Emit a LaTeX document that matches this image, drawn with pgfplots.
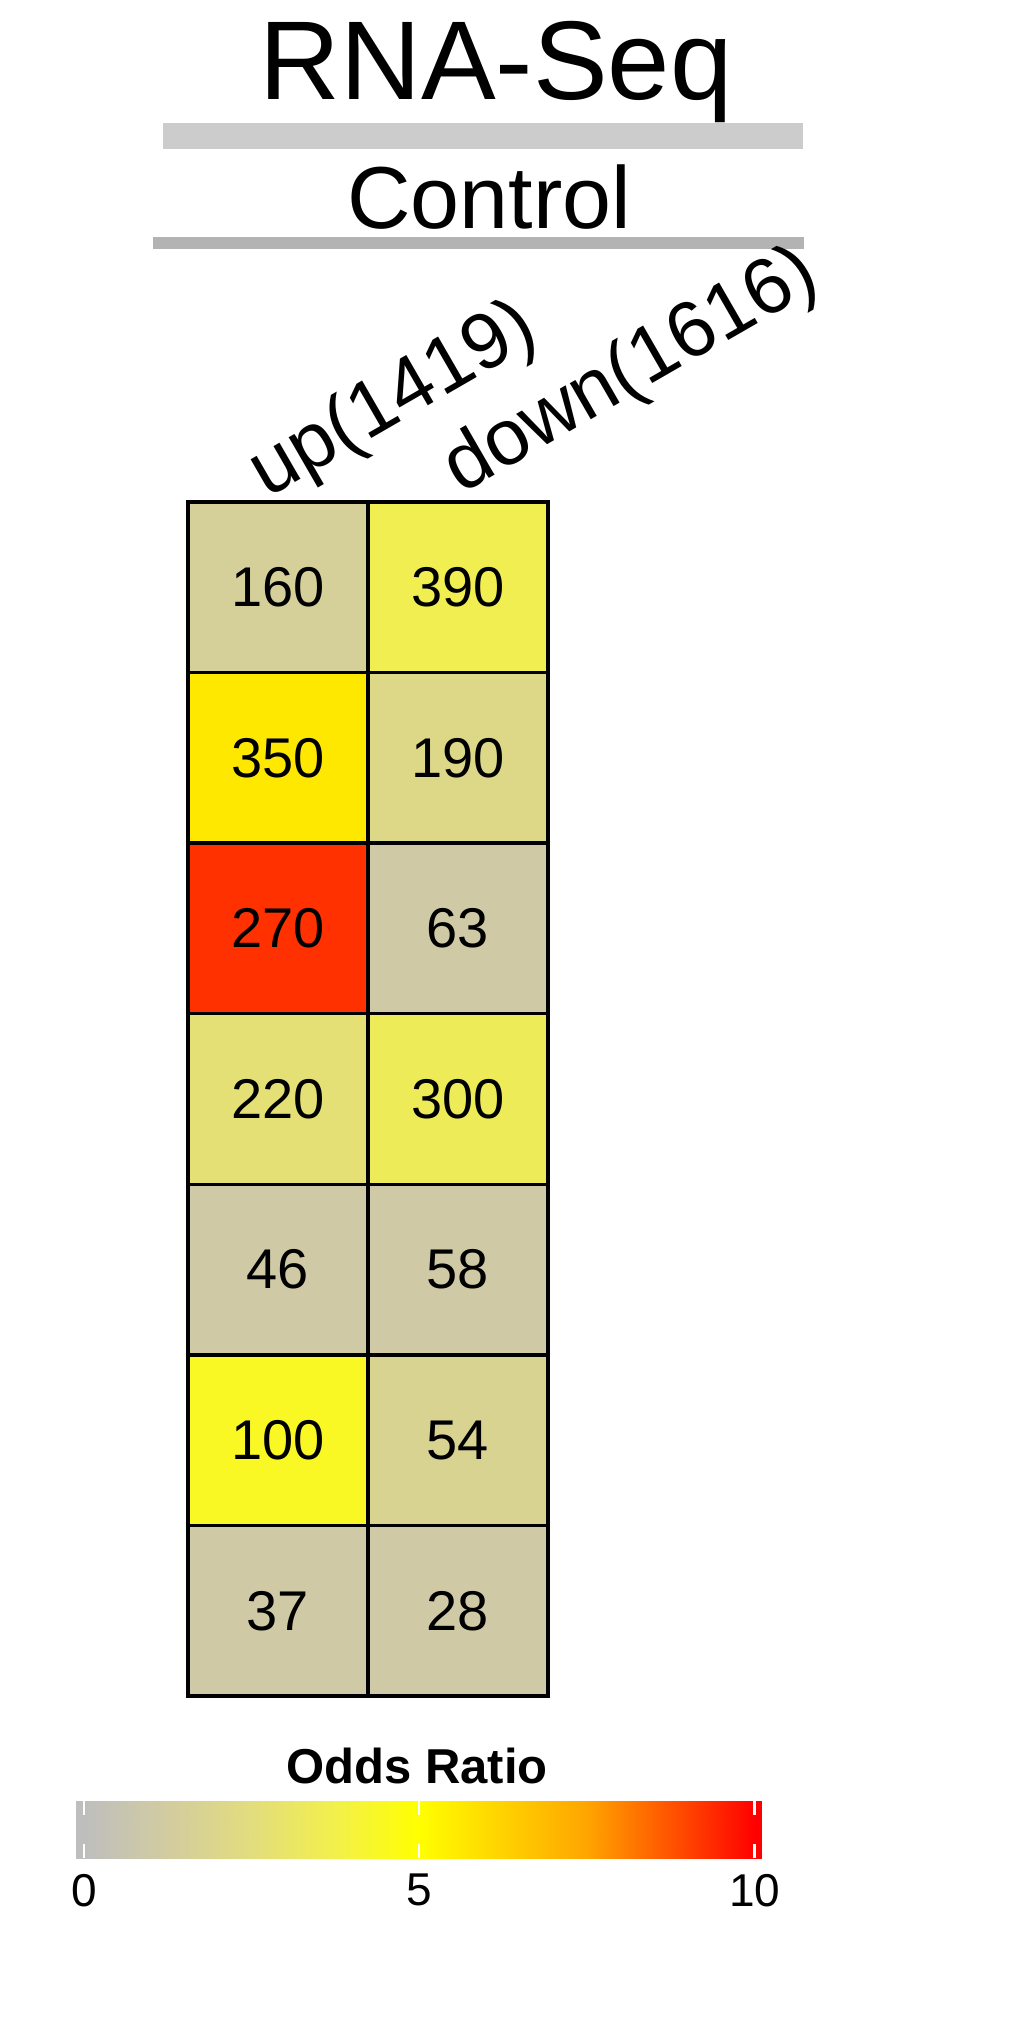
\documentclass[border=0pt]{standalone}
\usepackage{pgfplots}
\pgfplotsset{compat=1.18}
\usepackage{pgfplotstable}
\usepackage{fontspec}
\setmainfont{Liberation Sans}
\definecolor{bar1}{RGB}{204,204,204}
\definecolor{bar2}{RGB}{179,179,179}
\pgfplotsset{colormap={oddsr}{rgb255(0)=(190,190,190) rgb255(1.25)=(210,204,160) rgb255(2.5)=(226,221,125) rgb255(3.75)=(242,240,75) rgb255(5)=(255,255,0) rgb255(7.5)=(255,165,0) rgb255(10)=(255,0,0)}}
\pgfplotstableread{
x y or lab
0 0 1.5 160
1 0 3.6 390
0 1 5.65 350
1 1 2.1 190
0 2 9.25 270
1 2 1.05 63
0 3 2.7 220
1 3 3.4 300
0 4 1.05 46
1 4 1.05 58
0 5 4.4 100
1 5 1.8 54
0 6 1.05 37
1 6 1.05 28
}\cells
\pgfplotstableread{
x y
-0.115 0
0 0
1 0
2 0
3 0
4 0
5 0
6 0
7 0
8 0
9 0
10 0
10.11 0
-0.115 1
0 1
1 1
2 1
3 1
4 1
5 1
6 1
7 1
8 1
9 1
10 1
10.11 1
}\cbar
\begin{document}
\begin{tikzpicture}
\useasboundingbox (0pt,0pt) rectangle (510pt,-1015pt);
\fill[bar1] (81.5pt,-61.5pt) rectangle (401.5pt,-74.5pt);
\fill[bar2] (76.5pt,-118.5pt) rectangle (402pt,-124.5pt);
\node[anchor=base, font=\fontsize{56}{60}\selectfont, inner sep=0pt] at (248pt,-49.5pt) {RNA-Seq};
\node[anchor=base, font=\fontsize{44}{48}\selectfont, inner sep=0pt] at (244.5pt,-114pt) {Control};
\begin{axis}[at={(94pt,-848pt)}, anchor=south west, scale only axis,
  width=180pt, height=597pt,
  xmin=-0.5, xmax=1.5, ymin=-0.5, ymax=6.5, y dir=reverse,
  colormap name=oddsr, point meta min=0, point meta max=10,
  xtick=\empty, ytick=\empty,
  extra x ticks={0.5}, extra y ticks={0.5,1.5,...,5.5},
  extra x tick labels={}, extra y tick labels={},
  extra tick style={grid=major, major tick length=0pt, major grid style={black, line width=1.7pt}},
  axis line style={black, line width=1.7pt},
  axis on top, clip=false]
\addplot[matrix plot*, mesh/cols=2, point meta=\thisrow{or}] table[x=x, y=y] {\cells};
\addplot[draw=none, mark=none, nodes near coords, point meta=explicit symbolic,
  nodes near coords style={anchor=center, font=\fontsize{28}{30}\selectfont, inner sep=0pt}]
  table[x=x, y=y, meta=lab] {\cells};
\node[rotate=30, anchor=base west, font=\fontsize{39.5}{42}\selectfont, inner sep=0pt, xshift=-4pt, yshift=4pt] at (axis cs:0,-0.5) {up(1419)};
\node[rotate=30, anchor=base west, font=\fontsize{39.5}{42}\selectfont, inner sep=0pt, xshift=3pt, yshift=2.5pt] at (axis cs:1,-0.5) {down(1616)};
\end{axis}
\node[anchor=base, font=\bfseries\fontsize{24.5}{26}\selectfont, inner sep=0pt] at (208.5pt,-891.5pt) {Odds Ratio};
\begin{axis}[at={(38.1pt,-929pt)}, anchor=south west, scale only axis,
  width=342.9pt, height=28.5pt,
  xmin=-0.115, xmax=10.11, ymin=0, ymax=1,
  colormap name=oddsr, point meta min=0, point meta max=10,
  axis line style={draw=none},
  ytick=\empty, xtick={0,5,10}, xticklabels={0,5,10},
  xtick pos=both, xticklabel pos=lower, tick align=inside,
  major tick length=7pt, tick style={white, line width=1.2pt},
  xticklabel style={font=\fontsize{23}{25}\selectfont, yshift=-4.5pt},
  /pgf/number format/assume math mode=true,
  axis on top]
\addplot[surf, shader=interp, mesh/cols=13, point meta=x] table[x=x, y=y] {\cbar};
\end{axis}
\end{tikzpicture}
\end{document}
